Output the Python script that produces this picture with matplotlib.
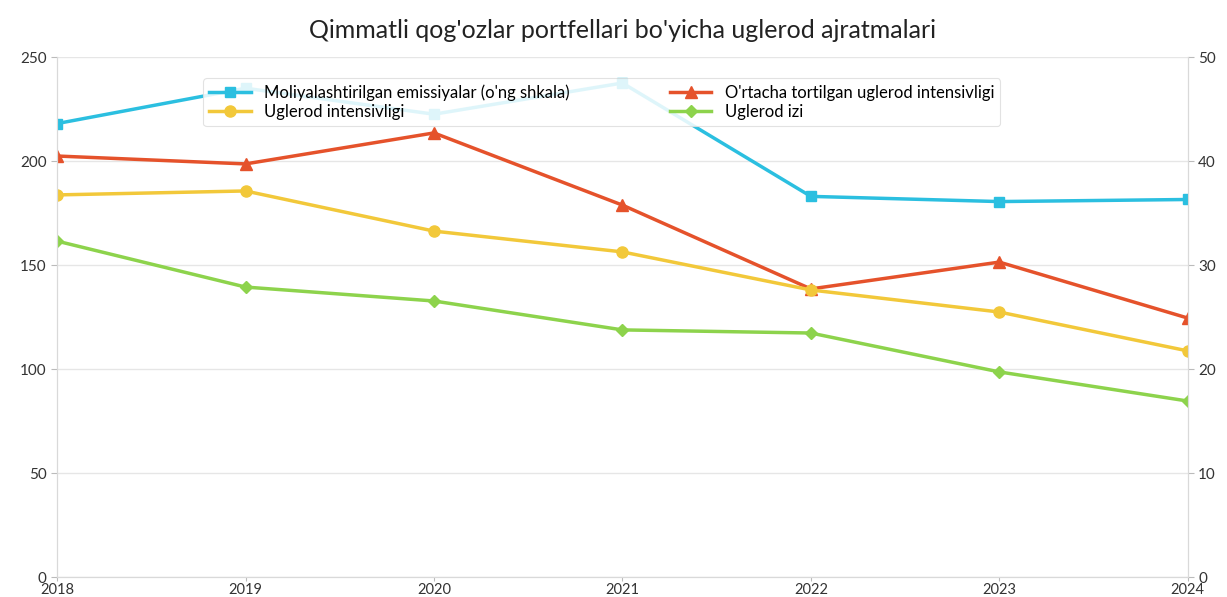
import matplotlib
matplotlib.use("Agg")
import matplotlib.pyplot as plt

years = [2018, 2019, 2020, 2021, 2022, 2023, 2024]
financed_emissions = [43.6, 47.0, 44.5, 47.5, 36.6, 36.1, 36.3]   # right axis
waci = [202.4, 198.6, 213.5, 178.8, 138.5, 151.4, 124.5]
carbon_intensity = [183.7, 185.6, 166.3, 156.3, 138.0, 127.4, 108.7]
carbon_footprint = [161.5, 139.4, 132.7, 118.8, 117.3, 98.6, 84.6]

title = "Qimmatli qog'ozlar portfellari bo'yicha uglerod ajratmalari"
labels = ["Moliyalashtirilgan emissiyalar (o'ng shkala)",
          "O'rtacha tortilgan uglerod intensivligi",
          "Uglerod intensivligi",
          "Uglerod izi"]

plt.rcParams['font.family'] = ['Lato', 'DejaVu Sans']

fig = plt.figure(figsize=(12.27, 5.97), dpi=100)
ax = fig.add_axes([0.0465, 0.0335, 0.9215, 0.871])
ax2 = ax.twinx()

c_cyan = "#2BBFE0"
c_orange = "#E5522B"
c_yellow = "#F2C83A"
c_green = "#8DD34C"

l2, = ax.plot(years, waci, color=c_orange, marker="^", ms=8, lw=2.5, label=labels[1])
l3, = ax.plot(years, carbon_intensity, color=c_yellow, marker="o", ms=8, lw=2.5, label=labels[2])
l4, = ax.plot(years, carbon_footprint, color=c_green, marker="D", ms=6, lw=2.5, label=labels[3])
l1, = ax2.plot(years, financed_emissions, color=c_cyan, marker="s", ms=7, lw=2.5, label=labels[0])

ax.set_ylim(0, 250)
ax2.set_ylim(0, 50)
ax.set_xlim(2018, 2024)
ax.set_yticks([0, 50, 100, 150, 200, 250])
ax2.set_yticks([0, 10, 20, 30, 40, 50])
ax.set_xticks(years)
ax.grid(axis="y", color="#E6E6E6", lw=1)
ax.set_axisbelow(True)

for a in (ax, ax2):
    a.spines["top"].set_visible(False)
    for s in ("left", "right", "bottom"):
        a.spines[s].set_color("#D9D9D9")
    a.tick_params(colors="#BBBBBB", labelcolor="#333333", labelsize=11, length=4)
ax.tick_params(axis="x", labelsize=10.5, pad=1, length=3)

ax.set_title(title, fontsize=18, color="#222222", pad=14)

leg = ax2.legend(handles=[l1, l3, l2, l4], ncol=2, loc="upper left",
                 bbox_to_anchor=(0.122, 0.975), fontsize=12, frameon=True,
                 framealpha=0.85, edgecolor="#DDDDDD", handlelength=2.5,
                 columnspacing=6.0, borderpad=0.35, labelspacing=0.2)
leg.get_frame().set_linewidth(0.8)

fig.savefig("out.png", dpi=100)
